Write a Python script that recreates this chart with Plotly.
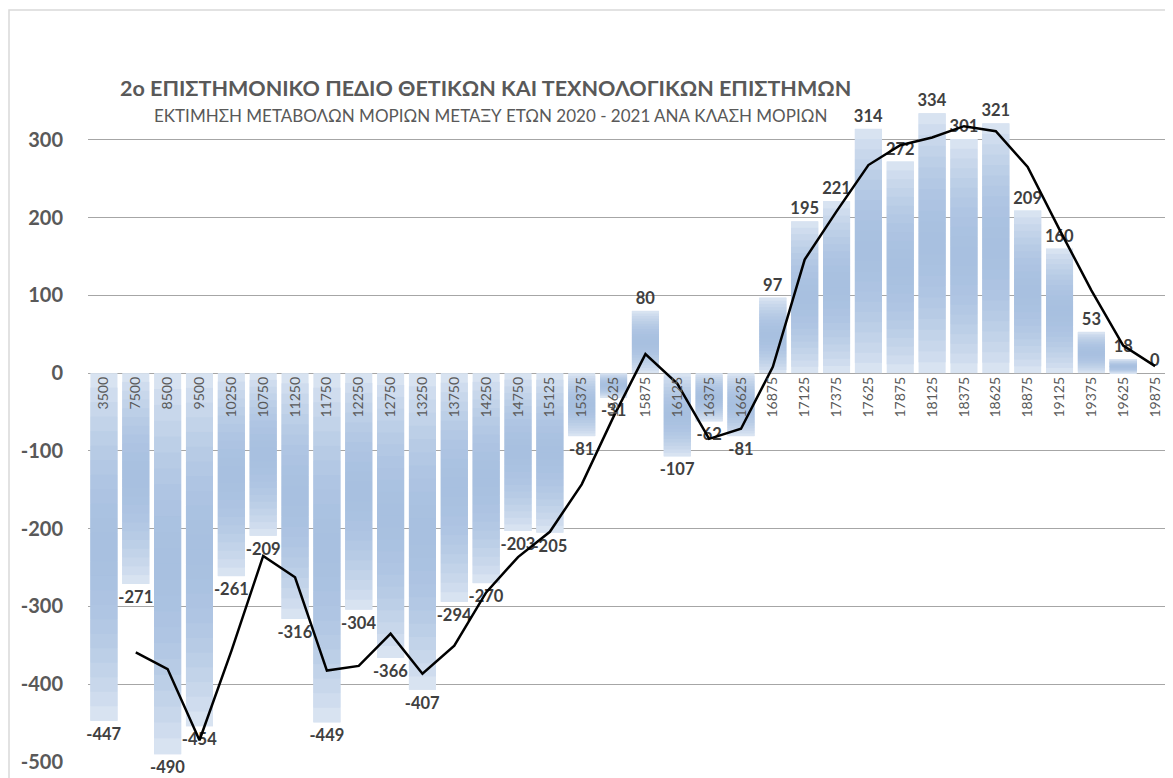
import math
import plotly.graph_objects as go

categories = ["3500", "7500", "8500", "9500", "10250", "10750", "11250", "11750", "12250",
              "12750", "13250", "13750", "14250", "14750", "15125", "15375", "15625", "15875",
              "16125", "16375", "16625", "16875", "17125", "17375", "17625", "17875", "18125",
              "18375", "18625", "18875", "19125", "19375", "19625", "19875"]
values = [-447, -271, -490, -454, -261, -209, -316, -449, -304, -366, -407, -294, -270, -203,
          -205, -81, -31, 80, -107, -62, -81, 97, 195, 221, 314, 272, 334, 301, 321, 209, 160,
          53, 18, 0]

y_tickvals = [-500, -400, -300, -200, -100, 0, 100, 200, 300]
y_ticktext = ["-500", "-400", "-300", "-200", "-100", "0", "100", "200", "300"]

title_text = "2ο ΕΠΙΣΤΗΜΟΝΙΚΟ ΠΕΔΙΟ ΘΕΤΙΚΩΝ ΚΑΙ ΤΕΧΝΟΛΟΓΙΚΩΝ ΕΠΙΣΤΗΜΩΝ"
subtitle_text = "ΕΚΤΙΜΗΣΗ ΜΕΤΑΒΟΛΩΝ ΜΟΡΙΩΝ ΜΕΤΑΞΥ ΕΤΩΝ 2020 - 2021 ΑΝΑ ΚΛΑΣΗ ΜΟΡΙΩΝ"

# 2-period moving average trendline (as in the original chart)
ma_x = categories[1:]
ma_y = [(values[i - 1] + values[i]) / 2 for i in range(1, len(values))]

# page body has an 8px margin: figure placed at (8, 8)
W, H = 1165, 770
L, R, T, B = 80, 2, 54, 16
pw, ph = W - L - R, H - T - B

FONT = "Lato, 'Open Sans', sans-serif"
GREY = "#595959"

fig = go.Figure()

# gradient fill for the bars (light ends, darker middle); slices overlap to avoid seams
N = 24
light = (222, 231, 243)
dark = (168, 192, 224)
for k in range(N):
    t = (k + 0.5) / N
    w = math.sin(math.pi * t) ** 0.8
    col = "rgb(%d,%d,%d)" % tuple(round(light[c] + (dark[c] - light[c]) * w) for c in range(3))
    f0 = k / N
    f1 = min(1.0, (k + 2) / N)
    fig.add_trace(go.Bar(
        x=categories, y=[v * (f1 - f0) for v in values], base=[v * f0 for v in values],
        marker=dict(color=col, line=dict(width=0)), showlegend=False, hoverinfo="skip",
    ))

fig.add_trace(go.Bar(
    x=categories, y=values,
    marker=dict(color="rgba(0,0,0,0)", line=dict(width=0)),
    text=[str(v) for v in values], textposition="outside",
    textfont=dict(family=FONT, size=16.5, color="#404040", weight="bold"),
    cliponaxis=False, constraintext="none", showlegend=False,
))
fig.add_trace(go.Scatter(
    x=ma_x, y=ma_y, mode="lines",
    line=dict(color="black", width=2.5), showlegend=False,
))

ymin, ymax = -500, 400
fig.update_layout(
    width=W, height=H,
    margin=dict(l=L, r=R, t=T, b=B),
    paper_bgcolor="white", plot_bgcolor="white",
    barmode="overlay", bargap=0.15,
    xaxis=dict(
        type="category", anchor="free", position=(0 - ymin) / (ymax - ymin),
        tickangle=-90, showgrid=False, showline=False, zeroline=False, ticks="",
        tickfont=dict(family=FONT, size=14, color=GREY),
    ),
    yaxis=dict(
        range=[ymin, ymax], tickvals=y_tickvals, ticktext=y_ticktext,
        showgrid=True, gridcolor="#a6a6a6", gridwidth=1, zeroline=False,
        showline=False, ticks="", ticklabelstandoff=24,
        tickfont=dict(family=FONT, size=20, color=GREY, weight="bold"),
    ),
    annotations=[
        dict(text=title_text, xref="paper", yref="paper",
             x=(477 - L) / pw, y=(H - B - 80) / ph, xanchor="center", yanchor="middle",
             showarrow=False, font=dict(family=FONT, size=21.5, color=GREY, weight="bold")),
        dict(text=subtitle_text, xref="paper", yref="paper",
             x=(482 - L) / pw, y=(H - B - 107) / ph, xanchor="center", yanchor="middle",
             showarrow=False, font=dict(family=FONT, size=17, color=GREY)),
    ],
    shapes=[
        dict(type="rect", xref="paper", yref="paper",
             x0=(1 - L) / pw, x1=1.2, y0=-0.2, y1=(H - B - 2) / ph,
             line=dict(color="#d9d9d9", width=1.5), fillcolor="rgba(0,0,0,0)", layer="below"),
    ],
)

fig.write_html("out.html")
